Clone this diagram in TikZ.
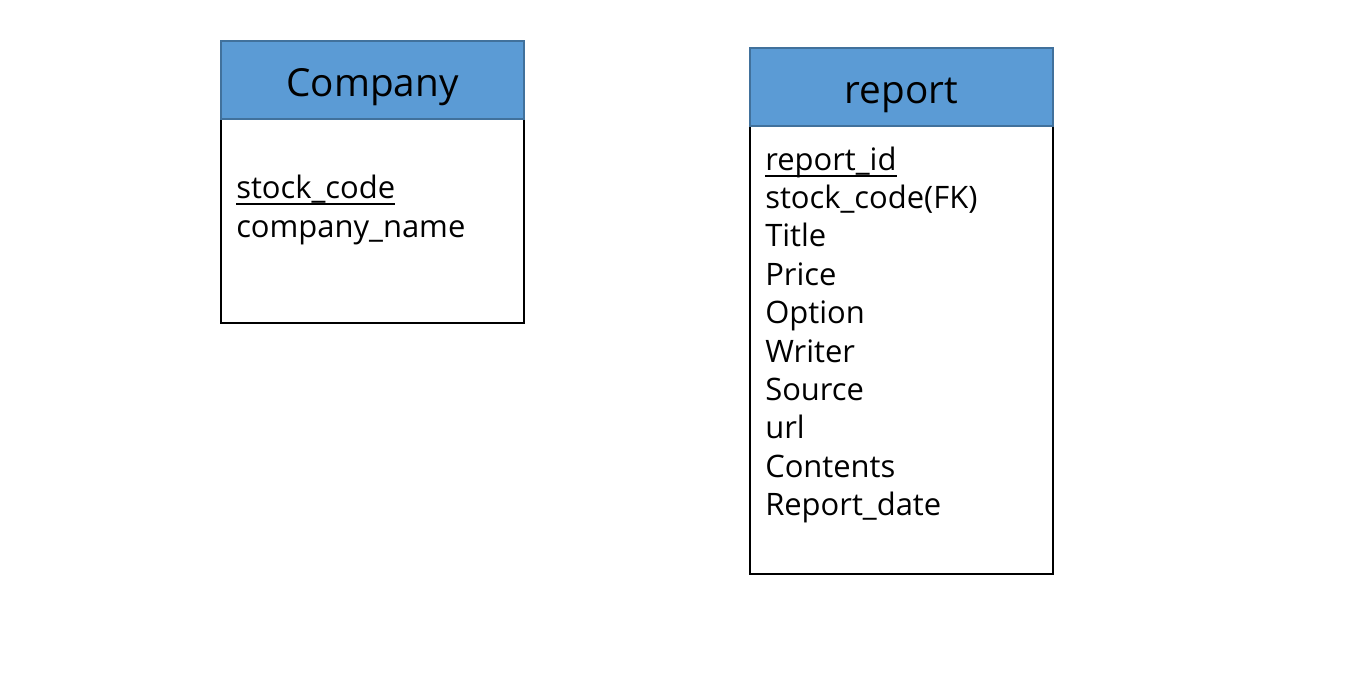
\documentclass[tikz,border=0pt]{standalone}
\usepackage{fontspec}
\setmainfont{Open Sans}
\definecolor{hdr}{HTML}{5B9BD5}
\definecolor{hdrline}{HTML}{41719C}
\begin{document}
\begin{tikzpicture}[x=0.75pt,y=-0.75pt,
  hdrbox/.style={fill=hdr,draw=hdrline,line width=1.2pt},
  bodybox/.style={draw=black,line width=1.5pt},
  title/.style={font=\fontsize{29}{34}\selectfont,inner sep=0pt,anchor=base},
  attr/.style={font=\fontsize{23.2}{28.8}\selectfont,inner sep=0pt,anchor=base west},
  keyline/.style={line width=1.5pt}]
\useasboundingbox (0,0) rectangle (1345,678);
% Company
\draw[bodybox] (221,119) rectangle (524,323);
\draw[hdrbox] (221,41) rectangle (524,119);
\node[title] (ctitle) at (372.5,96) {Company};
\node[attr] (c1) at (236,198) {stock\_code};
\node[attr] (c2) at (236,237) {company\_name};
\draw[keyline] ([yshift=-4.5pt]c1.base west) -- ([yshift=-4.5pt]c1.base east);
% report
\draw[bodybox] (750,126) rectangle (1053,574);
\draw[hdrbox] (750,48) rectangle (1053,126);
\node[title] (rtitle) at (901.5,103) {report};
\foreach \t [count=\i from 0] in {report\_id,stock\_code(FK),Title,Price,Option,Writer,Source,url,Contents,Report\_date}
  \node[attr] (r\i) at (765,{170+38.4*\i}) {\t};
\draw[keyline] ([yshift=-4.5pt]r0.base west) -- ([yshift=-4.5pt]r0.base east);
\end{tikzpicture}
\end{document}
